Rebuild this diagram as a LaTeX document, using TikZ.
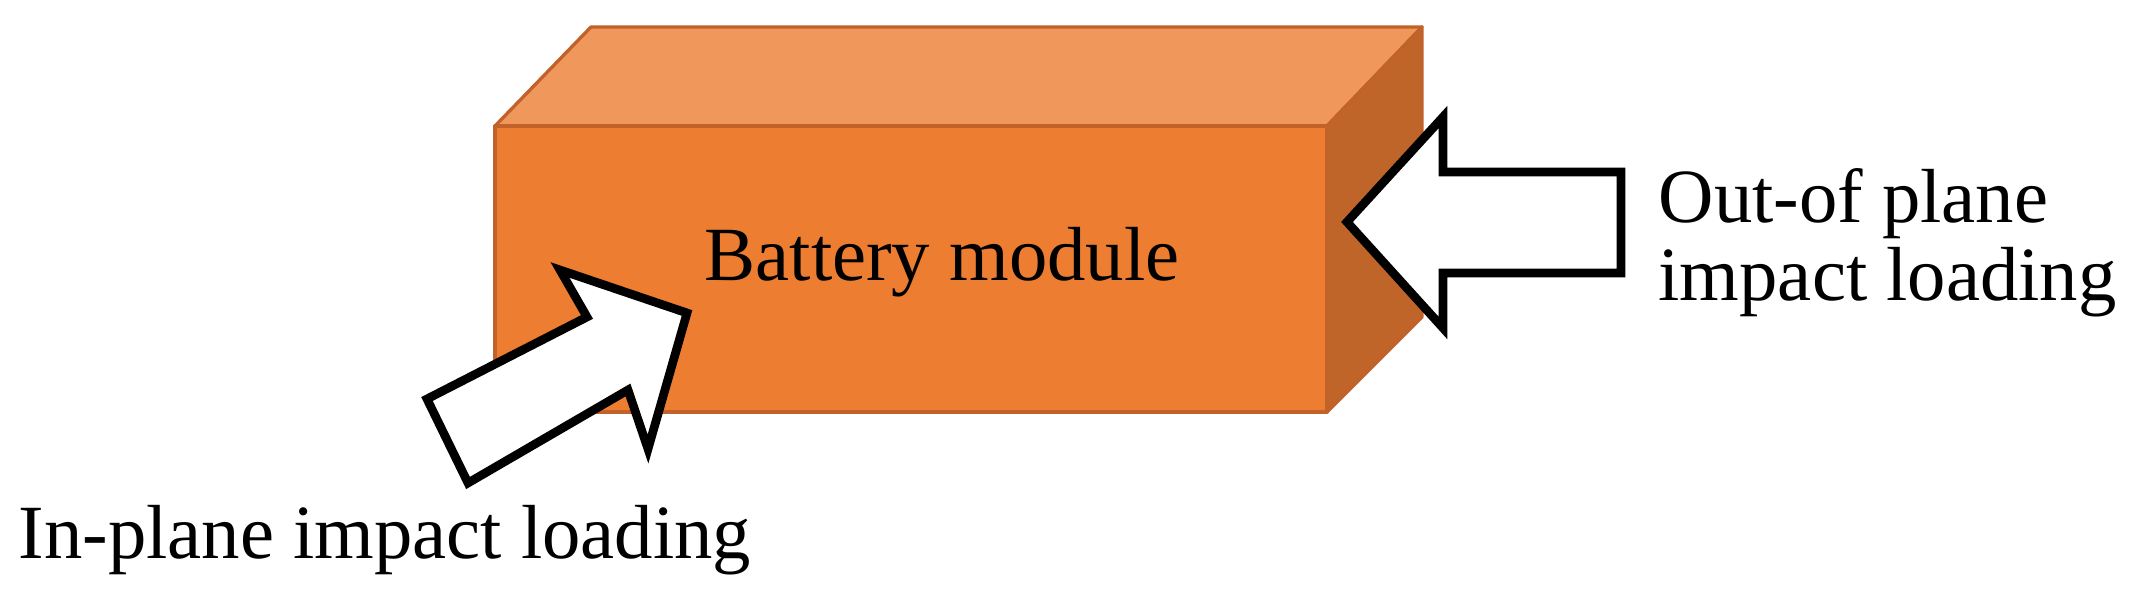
\documentclass[tikz,border=0pt]{standalone}
\usepackage{fontspec}
\setmainfont{Liberation Serif}
\begin{document}
\begin{tikzpicture}[x=0.3pt,y=-0.3pt,
  face/.style={draw=edgec,line width=1pt,line join=round},
  arr/.style={draw=black,fill=white,line width=2.6pt,line join=miter},
  lbl/.style={font=\fontsize{23}{23.5}\selectfont,inner sep=0pt}]
\definecolor{frontc}{HTML}{ED7D31}
\definecolor{topc}{HTML}{F0985C}
\definecolor{sidec}{HTML}{C0652A}
\definecolor{edgec}{HTML}{C0622A}
\useasboundingbox (0,0) rectangle (2140,596);
% box
\draw[face,fill=topc] (495,126) -- (591,27) -- (1422,27) -- (1327,126) -- cycle;
\draw[face,fill=sidec] (1327,126) -- (1422,27) -- (1422,317) -- (1327,412) -- cycle;
\draw[face,fill=frontc] (495,126) rectangle (1327,412);
\node[lbl] (bm) at (942,262) {Battery module};
% out-of-plane arrow
\draw[arr] (1347,222) -- (1443,117) -- (1443,172) -- (1621,172) -- (1621,273) -- (1443,273) -- (1443,328) -- cycle;
% in-plane arrow
\draw[arr] (560,270) -- (687,313) -- (648,449) -- (628,390) -- (468,483) -- (427,399) -- (587,317) -- cycle;
\node[lbl,anchor=north west,align=left] (oop) at (1658,168) {Out-of plane\\impact loading};
\node[lbl,anchor=west] (ip) at (18,540) {In-plane impact loading};
\end{tikzpicture}
\end{document}
